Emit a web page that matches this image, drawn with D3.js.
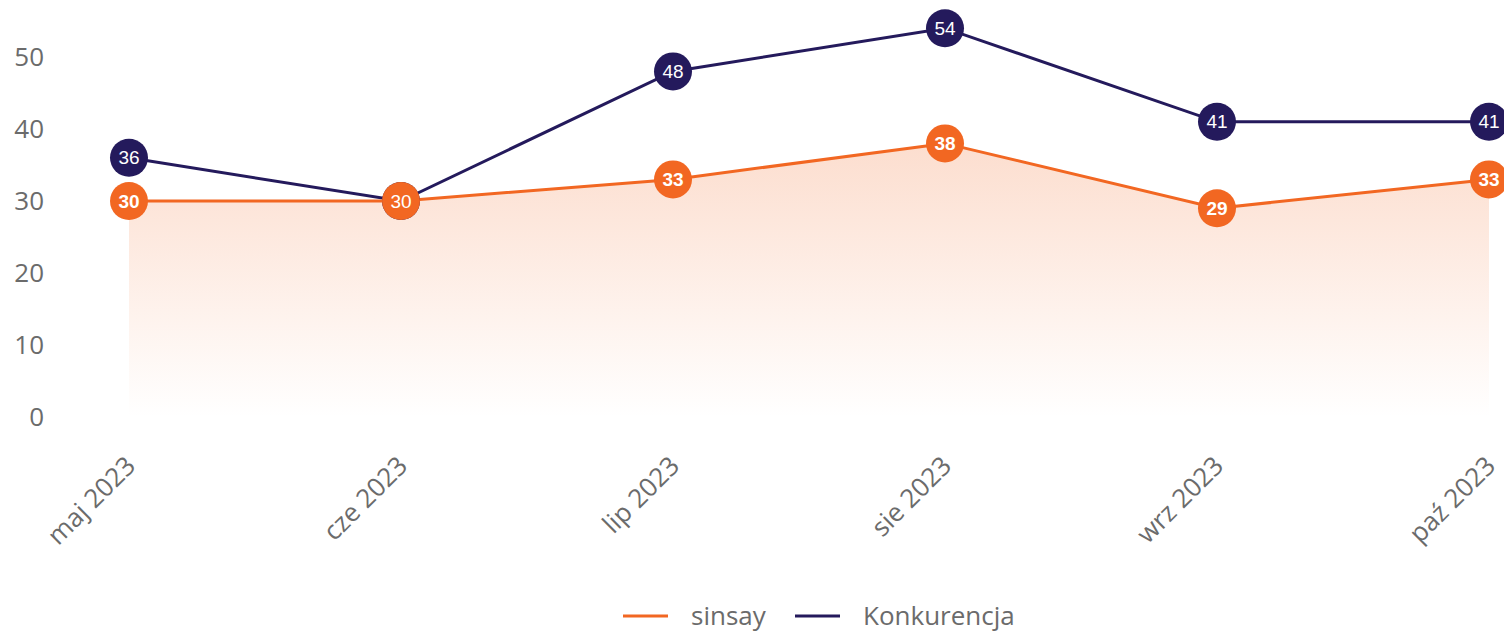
<!DOCTYPE html>
<html>
<head>
<meta charset="utf-8">
<script src="https://cdn.jsdelivr.net/npm/d3@7"></script>
<style>
  body { margin: 0; background: #fff; }
  svg { display: block; }
  .tick-text { font-family: "Open Sans", sans-serif; font-size: 26px; fill: #6b6b6b; }
  .dot-text { font-family: "Liberation Sans", Arial, sans-serif; font-size: 19px; fill: #fff; }
</style>
</head>
<body>
<div class="chart"></div>
<script>
// chart data
var months = ["maj 2023", "cze 2023", "lip 2023", "sie 2023", "wrz 2023", "paź 2023"];
var sinsay = [30, 30, 33, 38, 29, 33];
var konkurencja = [36, 30, 48, 54, 41, 41];
var yTicks = [0, 10, 20, 30, 40, 50];
var seriesNames = ["sinsay", "Konkurencja"];

var svgWidth = 1504;
var svgHeight = 632;
var orange = "#f26722";
var navy = "#241a5c";

var svg = d3.select(".chart")
  .append("svg")
  .attr("width", svgWidth)
  .attr("height", svgHeight);

// scales
var x = d3.scalePoint().domain(months).range([129, 1489]);
var y = d3.scaleLinear().domain([0, 50]).range([417, 57]);

// gradient for the area under sinsay
var defs = svg.append("defs");
var grad = defs.append("linearGradient")
  .attr("id", "areaGrad")
  .attr("gradientUnits", "userSpaceOnUse")
  .attr("x1", 0).attr("x2", 0)
  .attr("y1", y(d3.max(sinsay))).attr("y2", y(0));
grad.append("stop").attr("offset", "0%").attr("stop-color", orange).attr("stop-opacity", 0.22);
grad.append("stop").attr("offset", "100%").attr("stop-color", orange).attr("stop-opacity", 0);

// y axis labels (no axis line)
var yAxis = d3.axisLeft(y).tickValues(yTicks).tickSize(0).tickPadding(0);
var gy = svg.append("g").attr("transform", "translate(44,0)").call(yAxis);
gy.select(".domain").remove();
gy.selectAll("text").attr("class", "tick-text").attr("font-family", null).attr("font-size", null).attr("fill", null);

// x axis labels, rotated
var xAxis = d3.axisBottom(x).tickSize(0).tickPadding(0);
var gx = svg.append("g").attr("transform", "translate(0,461)").call(xAxis);
gx.select(".domain").remove();
gx.selectAll("text")
  .attr("class", "tick-text")
  .attr("font-family", null).attr("font-size", null).attr("fill", null)
  .attr("text-anchor", "end")
  .attr("y", 0)
  .attr("dy", "0.35em")
  .attr("transform", "translate(1,0) rotate(-45)");

// area
var area = d3.area()
  .x(function(d, i) { return x(months[i]); })
  .y0(y(0))
  .y1(function(d) { return y(d); });
svg.append("path").datum(sinsay).attr("d", area).attr("fill", "url(#areaGrad)");

// lines
var line = d3.line()
  .x(function(d, i) { return x(months[i]); })
  .y(function(d) { return y(d); });

svg.append("path").datum(konkurencja).attr("d", line)
  .attr("fill", "none").attr("stroke", navy).attr("stroke-width", 3);
svg.append("path").datum(sinsay).attr("d", line)
  .attr("fill", "none").attr("stroke", orange).attr("stroke-width", 3);

// circles
svg.append("g").selectAll("circle").data(konkurencja).enter().append("circle")
  .attr("cx", function(d, i) { return x(months[i]); })
  .attr("cy", function(d) { return y(d); })
  .attr("r", 19).attr("fill", navy);
svg.append("g").selectAll("circle").data(sinsay).enter().append("circle")
  .attr("cx", function(d, i) { return x(months[i]); })
  .attr("cy", function(d) { return y(d); })
  .attr("r", 19).attr("fill", orange);

// labels: a sinsay label that would sit exactly under a Konkurencja label is hidden
var sLab = svg.append("g");
sinsay.forEach(function(d, i) {
  if (d === konkurencja[i]) return;
  sLab.append("text")
    .attr("class", "dot-text")
    .attr("x", x(months[i])).attr("y", y(d))
    .attr("dy", "0.35em").attr("text-anchor", "middle")
    .attr("font-weight", "bold")
    .text(d);
});
svg.append("g").selectAll("text").data(konkurencja).enter().append("text")
  .attr("class", "dot-text")
  .attr("x", function(d, i) { return x(months[i]); })
  .attr("y", function(d) { return y(d); })
  .attr("dy", "0.35em").attr("text-anchor", "middle")
  .text(function(d) { return d; });

// legend
var legend = svg.append("g").attr("transform", "translate(623,616)");
var legendColors = [orange, navy];
var legendX = [0, 172];
seriesNames.forEach(function(name, i) {
  var g = legend.append("g").attr("transform", "translate(" + legendX[i] + ",0)");
  g.append("line").attr("x1", 0).attr("x2", 45).attr("y1", 0).attr("y2", 0)
    .attr("stroke", legendColors[i]).attr("stroke-width", 3);
  g.append("text").attr("class", "tick-text").attr("x", 68).attr("dy", "0.35em").text(name);
});
</script>
</body>
</html>
